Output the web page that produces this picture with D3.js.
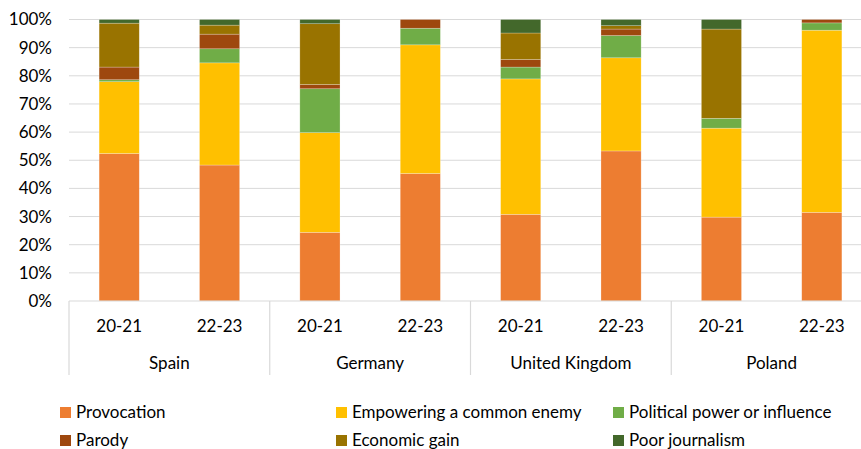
<!DOCTYPE html>
<html>
<head>
<meta charset="utf-8">
<script src="https://cdn.jsdelivr.net/npm/d3@7"></script>
<style>
  body { margin: 0; background: #fff; }
  svg { display: block; font-family: Lato, "Open Sans", sans-serif; }
</style>
</head>
<body>
<div id="chart"></div>
<script>
// Data
const countries = ["Spain", "Germany", "United Kingdom", "Poland"];
const periods = ["20-21", "22-23"];
const seriesNames = ["Provocation", "Empowering a common enemy", "Political power or influence",
                     "Parody", "Economic gain", "Poor journalism"];
const seriesColors = ["#ED7D31", "#FFC000", "#70AD47", "#9E480E", "#997300", "#43682B"];
// one value per bar: Spain 20-21, Spain 22-23, Germany 20-21, ..., Poland 22-23
const provocation = [52.4, 48.3, 24.4, 45.3, 30.8, 53.3, 29.8, 31.5];
const empowering  = [25.5, 36.3, 35.4, 45.7, 48.1, 33.1, 31.6, 64.7];
const political   = [0.7, 5.0, 15.6, 5.9, 4.2, 7.9, 3.5, 2.6];
const parody      = [4.5, 5.2, 1.5, 3.1, 2.7, 2.3, 0.0, 1.2];
const economic    = [15.6, 3.2, 21.6, 0.0, 9.4, 1.2, 31.7, 0.0];
const poorJourn   = [1.3, 2.0, 1.5, 0.0, 4.8, 2.2, 3.4, 0.0];
const yTicks = [0, 10, 20, 30, 40, 50, 60, 70, 80, 90, 100];

const width = 861, height = 449;
const margin = { left: 69, top: 19.5, bottom: 148 };
const plotW = 803; // the plot runs past the right edge like the original
const plotH = height - margin.top - margin.bottom;

const bars = [];
countries.forEach((c, ci) => periods.forEach((p, pi) => bars.push({ country: c, period: p, key: c + "|" + p })));
const valueRows = [provocation, empowering, political, parody, economic, poorJourn];
const table = bars.map((b, i) => {
  const row = { key: b.key };
  seriesNames.forEach((s, si) => { row[s] = valueRows[si][i]; });
  return row;
});

const svg = d3.select("#chart").append("svg")
  .attr("width", width).attr("height", height);

const x = d3.scaleBand().domain(bars.map(b => b.key))
  .range([margin.left, margin.left + plotW]).paddingInner(0.6).paddingOuter(0.3);
const y = d3.scaleLinear().domain([0, 100]).range([margin.top + plotH, margin.top]);
const color = d3.scaleOrdinal().domain(seriesNames).range(seriesColors);

// gridlines
svg.append("g").selectAll("line").data(yTicks.slice(1)).join("line")
  .attr("x1", margin.left).attr("x2", margin.left + plotW)
  .attr("y1", d => y(d)).attr("y2", d => y(d))
  .attr("stroke", "#d9d9d9").attr("stroke-width", 1);

// y axis labels
const yAxis = svg.append("g")
  .attr("transform", `translate(${margin.left},0)`)
  .call(d3.axisLeft(y).tickValues(yTicks).tickFormat(d => d + "%").tickSize(0).tickPadding(17));
yAxis.select(".domain").remove();
yAxis.selectAll("text").attr("font-size", 17).attr("fill", "#000")
  .attr("font-family", "Lato, 'Open Sans', sans-serif");

// stacked bars
const stacked = d3.stack().keys(seriesNames)(table);
svg.append("g").selectAll("g").data(stacked).join("g")
  .attr("fill", d => color(d.key))
  .selectAll("rect").data(d => d).join("rect")
  .attr("x", d => x(d.data.key))
  .attr("width", x.bandwidth())
  .attr("y", d => y(d[1]))
  .attr("height", d => Math.max(0, y(d[0]) - y(d[1])))
  .attr("stroke", "#fff").attr("stroke-opacity", 0.4).attr("stroke-width", 0.6);

// category axis
const base = y(0);
svg.append("line")
  .attr("x1", margin.left).attr("x2", margin.left + plotW)
  .attr("y1", base).attr("y2", base)
  .attr("stroke", "#d9d9d9").attr("stroke-width", 1.2);

const groupW = plotW / countries.length;
const sep = d3.range(countries.length + 1).map(i => margin.left + i * groupW);
svg.append("g").selectAll("line").data(sep).join("line")
  .attr("x1", d => d).attr("x2", d => d)
  .attr("y1", base).attr("y2", base + 74)
  .attr("stroke", "#d9d9d9").attr("stroke-width", 1.2);

svg.append("g").selectAll("text").data(bars).join("text")
  .attr("x", d => x(d.key) + x.bandwidth() / 2)
  .attr("y", base + 31)
  .attr("text-anchor", "middle").attr("font-size", 17).attr("fill", "#000")
  .text(d => d.period);

svg.append("g").selectAll("text").data(countries).join("text")
  .attr("x", (d, i) => margin.left + (i + 0.5) * groupW)
  .attr("y", base + 68)
  .attr("text-anchor", "middle").attr("font-size", 17).attr("fill", "#000")
  .text(d => d);

// legend
const legendCols = [60, 336, 613];
const legendRows = [418, 446];
const legend = svg.append("g").selectAll("g").data(seriesNames).join("g")
  .attr("transform", (d, i) => `translate(${legendCols[i % 3]},${legendRows[Math.floor(i / 3)]})`);
legend.append("rect")
  .attr("x", 0).attr("y", -11).attr("width", 11).attr("height", 11)
  .attr("fill", d => color(d));
legend.append("text")
  .attr("x", 16).attr("y", 0)
  .attr("font-size", 17).attr("fill", "#000")
  .text(d => d);
</script>
</body>
</html>
